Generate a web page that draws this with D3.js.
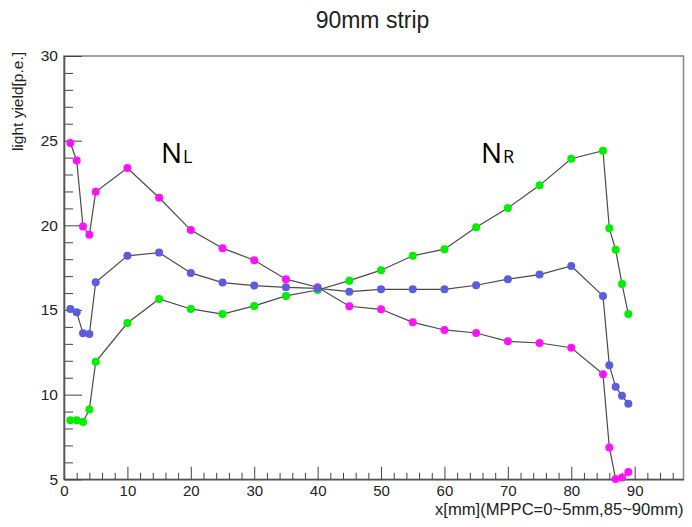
<!DOCTYPE html>
<html>
<head>
<meta charset="utf-8">
<script src="https://cdn.jsdelivr.net/npm/d3@7"></script>
<style>
  html, body { margin: 0; padding: 0; background: #fff; }
  svg { display: block; }
  text { font-family: "Liberation Sans", Arial, Helvetica, sans-serif; }
</style>
</head>
<body>
<svg id="chart" width="692" height="527"></svg>
<script>
// ---- data ----
const xPositions = [1, 2, 3, 4, 5, 10, 15, 20, 25, 30, 35, 40, 45, 50, 55, 60, 65, 70, 75, 80, 85, 86, 87, 88, 89];
const nLeft  = [24.86, 23.83, 19.93, 19.44, 21.98, 23.38, 21.63, 19.72, 18.65, 17.94, 16.82, 16.34, 15.22, 15.04, 14.27, 13.82, 13.64, 13.15, 13.05, 12.77, 11.21, 6.88, 5.02, 5.10, 5.43];
const nMean  = [15.06, 14.86, 13.62, 13.58, 16.64, 18.20, 18.39, 17.19, 16.62, 16.44, 16.34, 16.28, 16.08, 16.22, 16.22, 16.22, 16.46, 16.82, 17.09, 17.60, 15.83, 11.73, 10.46, 9.93, 9.46];
const nRight = [8.49, 8.49, 8.39, 9.12, 11.94, 14.23, 15.65, 15.06, 14.76, 15.24, 15.83, 16.18, 16.73, 17.35, 18.20, 18.59, 19.89, 21.02, 22.36, 23.93, 24.41, 19.83, 18.55, 16.54, 14.76];
const xMajorTicks = [0, 10, 20, 30, 40, 50, 60, 70, 80, 90];
const yMajorTicks = [5, 10, 15, 20, 25, 30];
const titleText = "90mm strip";
const xTitle = "x[mm](MPPC=0~5mm,85~90mm)";
const yTitle = "light yield[p.e.]";

const series = [
  { name: "NR", values: nRight, color: "#00f000" },
  { name: "NL", values: nLeft,  color: "#ff10ff" },
  { name: "mean", values: nMean, color: "#5c5ce0" }
];

// ---- layout ----
const svg = d3.select("#chart");
const L = 64, R = 683.5, T = 56, B = 479.3;
const x = d3.scaleLinear().domain([0, 97.7]).range([L, R]);
const y = d3.scaleLinear().domain([5, 30]).range([B, T]);

// frame
svg.append("rect")
  .attr("x", L).attr("y", T).attr("width", R - L).attr("height", B - T)
  .attr("fill", "none").attr("stroke", "#8a8a8a").attr("stroke-width", 1.6);

// minor ticks
const xMinor = d3.range(0, 97, 2).filter(v => v % 10 !== 0);
const yMinor = d3.range(5, 31, 1).filter(v => v % 5 !== 0);

svg.append("g").attr("transform", `translate(0,${B})`)
  .call(d3.axisBottom(x).tickValues(xMinor).tickSize(-6.5).tickFormat(""))
  .call(g => g.select(".domain").remove())
  .call(g => g.selectAll("line").attr("stroke", "#444"));
svg.append("g").attr("transform", `translate(${L},0)`)
  .call(d3.axisLeft(y).tickValues(yMinor).tickSize(-9).tickFormat(""))
  .call(g => g.select(".domain").remove())
  .call(g => g.selectAll("line").attr("stroke", "#444"));

// major axes
svg.append("g").attr("transform", `translate(0,${B})`)
  .call(d3.axisBottom(x).tickValues(xMajorTicks).tickSize(-12.5).tickSizeOuter(0).tickPadding(6).tickFormat(d3.format("d")))
  .call(g => g.select(".domain").attr("stroke", "#555").attr("stroke-width", 1.6))
  .call(g => g.selectAll("line").attr("stroke", "#444"))
  .call(g => g.selectAll("text").attr("font-size", 15).attr("fill", "#222")
    .style("font-family", "'Liberation Sans', Arial, sans-serif"));
svg.append("g").attr("transform", `translate(${L},0)`)
  .call(d3.axisLeft(y).tickValues(yMajorTicks).tickSize(-18).tickSizeOuter(0).tickPadding(6).tickFormat(d3.format("d")))
  .call(g => g.select(".domain").attr("stroke", "#555").attr("stroke-width", 1.6))
  .call(g => g.selectAll("line").attr("stroke", "#444"))
  .call(g => g.selectAll("text").attr("font-size", 15.5).attr("fill", "#222")
    .style("font-family", "'Liberation Sans', Arial, sans-serif"));

// titles
svg.append("text").attr("x", 372.5).attr("y", 28).attr("text-anchor", "middle")
  .attr("font-size", 23).attr("fill", "#222").text(titleText);
svg.append("text").attr("x", R).attr("y", 515).attr("text-anchor", "end")
  .attr("font-size", 16.6).attr("fill", "#222").text(xTitle);
svg.append("text").attr("transform", "translate(23,52) rotate(-90)").attr("text-anchor", "end")
  .attr("font-size", 15.5).attr("fill", "#222").text(yTitle);

// series
const line = d3.line().x(d => x(d[0])).y(d => y(d[1]));
series.forEach(s => {
  const pts = xPositions.map((xv, i) => [xv, s.values[i]]);
  svg.append("path").attr("d", line(pts)).attr("fill", "none")
    .attr("stroke", "#4a4a4a").attr("stroke-width", 1.2);
  svg.append("g").selectAll("circle").data(pts).join("circle")
    .attr("cx", d => x(d[0])).attr("cy", d => y(d[1])).attr("r", 4)
    .attr("fill", s.color);
});

// series labels N_L, N_R
function sublabel(px, py, main, sub) {
  const t = svg.append("text").attr("x", px).attr("y", py)
    .style("font-family", "'Open Sans', 'Noto Sans', sans-serif").attr("fill", "#000");
  t.append("tspan").attr("font-size", 28).text(main);
  t.append("tspan").attr("font-size", 18).attr("dx", 1).text(sub);
}
sublabel(161, 163.3, "N", "L");
sublabel(481, 163.3, "N", "R");
</script>
</body>
</html>
